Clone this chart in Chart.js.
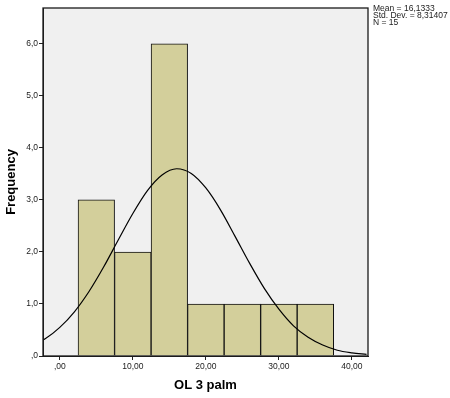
<!DOCTYPE html>
<html>
<head>
<meta charset="utf-8">
<script src="https://cdn.jsdelivr.net/npm/chart.js@4/dist/chart.umd.min.js"></script>
<style>
  html, body { margin: 0; padding: 0; background: #ffffff; }
  #wrap { width: 450px; height: 398px; }
</style>
</head>
<body>
<div id="wrap"><canvas id="histChart" width="450" height="398"></canvas></div>
<script>
// histogram bins (centres) and counts
const binCentres = [5, 10, 15, 20, 25, 30, 35];
const binCounts = [3, 2, 6, 1, 1, 1, 1];

// fitted normal curve
const curveX = [-4, -2, 0, 2, 4, 6, 8, 10, 12, 14, 16, 18, 20, 22, 24, 26, 28, 30, 32, 34, 36, 38, 40, 42];
const curveY = [0.19, 0.33, 0.55, 0.85, 1.24, 1.71, 2.23, 2.74, 3.18, 3.48, 3.6, 3.51, 3.23, 2.81, 2.3, 1.78, 1.3, 0.9, 0.58, 0.36, 0.21, 0.11, 0.06, 0.03];

const xTicks = [0, 10, 20, 30, 40];
const yTicks = [0, 1, 2, 3, 4, 5, 6];

const statLines = ["Mean = 16,1333", "Std. Dev. = 8,31407", "N = 15"];

const fontFamily = "'Liberation Sans', Arial, sans-serif";
const ink = "#222222";

const plotFrame = {
  id: "plotFrame",
  beforeDraw(chart) {
    const { ctx, chartArea: a } = chart;
    ctx.save();
    ctx.fillStyle = "#f0f0f0";
    ctx.fillRect(a.left, a.top, a.right - a.left, a.bottom - a.top);
    ctx.restore();
  },
  afterDraw(chart) {
    const { ctx, chartArea: a } = chart;
    ctx.save();
    ctx.strokeStyle = "#1a1a1a";
    ctx.lineWidth = 1.3;
    ctx.strokeRect(a.left, a.top, a.right - a.left, a.bottom - a.top);
    // stats box text
    ctx.fillStyle = ink;
    ctx.font = "8.5px " + fontFamily;
    ctx.textBaseline = "middle";
    statLines.forEach((t, i) => ctx.fillText(t, a.right + 5, 9 + i * 6.8));
    ctx.restore();
  },
};

new Chart(document.getElementById("histChart"), {
  type: "bar",
  data: {
    datasets: [
      {
        type: "line",
        data: curveX.map((x, i) => ({ x: x, y: curveY[i] })),
        borderColor: "#000000",
        borderWidth: 1.2,
        pointRadius: 0,
        cubicInterpolationMode: "monotone",
        fill: false,
        order: 0,
      },
      {
        type: "bar",
        data: binCentres.map((x, i) => ({ x: x, y: binCounts[i] })),
        backgroundColor: "#d3cf9b",
        borderColor: "#111111",
        borderWidth: 1,
        barPercentage: 1,
        categoryPercentage: 1,
        grouped: false,
        order: 1,
      },
    ],
  },
  options: {
    responsive: false,
    animation: false,
    layout: { padding: { top: 8, right: 82, left: 0, bottom: 0 } },
    plugins: { legend: { display: false }, tooltip: { enabled: false } },
    scales: {
      x: {
        type: "linear",
        offset: false,
        min: -2.3,
        max: 42.2,
        afterFit: (s) => { s.height = 42; },
        afterBuildTicks: (s) => { s.ticks = xTicks.map((v) => ({ value: v })); },
        grid: { offset: false, drawOnChartArea: false, tickLength: 4, color: ink, tickWidth: 1 },
        border: { color: ink },
        ticks: {
          padding: 2,
          color: ink,
          font: { family: fontFamily, size: 8.5 },
          maxRotation: 0,
          autoSkip: false,
          callback: (v) => (v === 0 ? ",00" : v.toFixed(2).replace(".", ",")),
        },
        title: {
          display: true,
          text: "OL 3 palm",
          color: "#000000",
          font: { family: fontFamily, size: 13, weight: "bold" },
          padding: { top: 0, bottom: 5 },
        },
      },
      y: {
        min: 0,
        max: 6.69,
        afterFit: (s) => { s.width = 43; },
        afterBuildTicks: (s) => { s.ticks = yTicks.map((v) => ({ value: v })); },
        grid: { drawOnChartArea: false, tickLength: 4, color: ink, tickWidth: 1 },
        border: { color: ink },
        ticks: {
          padding: 1,
          color: ink,
          font: { family: fontFamily, size: 8.5 },
          callback: (v) => (v === 0 ? ",0" : v.toFixed(1).replace(".", ",")),
        },
        title: {
          display: true,
          text: "Frequency",
          color: "#000000",
          font: { family: fontFamily, size: 13, weight: "bold" },
          padding: { top: 4, bottom: 0 },
        },
      },
    },
  },
  plugins: [plotFrame],
});
</script>
</body>
</html>
